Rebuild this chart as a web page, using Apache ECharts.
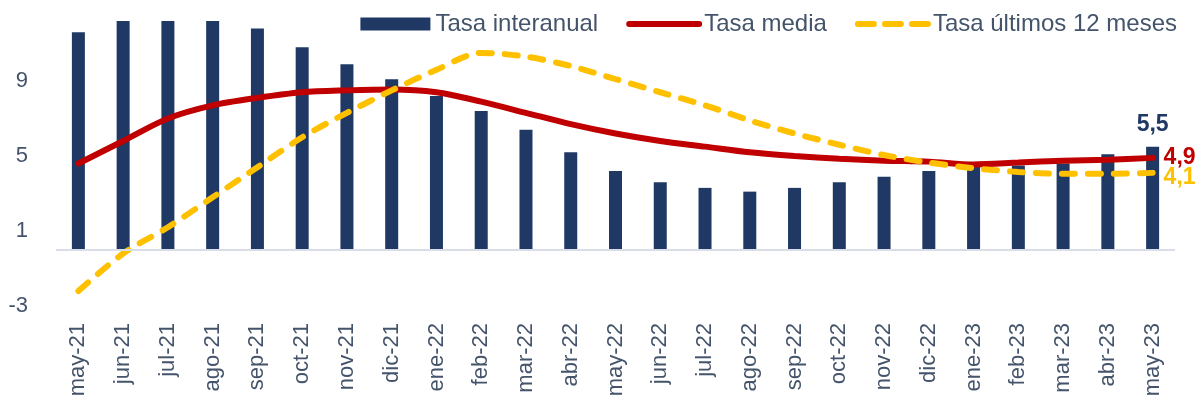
<!DOCTYPE html>
<html>
<head>
<meta charset="utf-8">
<script src="https://cdn.jsdelivr.net/npm/echarts@6/dist/echarts.min.js"></script>
<style>
  html, body { margin: 0; padding: 0; background: #fff; }
  #chart { width: 1199px; height: 403px; }
</style>
</head>
<body>
<div id="chart"></div>
<script>
const months = ["may-21", "jun-21", "jul-21", "ago-21", "sep-21", "oct-21", "nov-21", "dic-21", "ene-22",
  "feb-22", "mar-22", "abr-22", "may-22", "jun-22", "jul-22", "ago-22", "sep-22", "oct-22", "nov-22",
  "dic-22", "ene-23", "feb-23", "mar-23", "abr-23", "may-23"];

const tasaInteranual = [11.6, 12.2, 12.2, 12.2, 11.8, 10.8, 9.9, 9.1, 8.2, 7.4, 6.4, 5.2, 4.2,
  3.6, 3.3, 3.1, 3.3, 3.6, 3.9, 4.2, 4.5, 4.5, 4.6, 5.1, 5.5];
const tasaMedia = [4.6, 5.8, 7.0, 7.7, 8.1, 8.4, 8.5, 8.55, 8.4, 7.9, 7.3, 6.7, 6.2,
  5.8, 5.5, 5.2, 5.0, 4.85, 4.75, 4.7, 4.55, 4.65, 4.75, 4.8, 4.9];
const tasaUltimos12 = [-2.2, -0.2, 1.2, 2.8, 4.4, 6.0, 7.3, 8.5, 9.6, 10.5, 10.3, 9.8, 9.1,
  8.4, 7.7, 6.9, 6.2, 5.6, 5.05, 4.65, 4.35, 4.15, 4.05, 4.05, 4.1];

const yTicks = [-3, 1, 5, 9];

const navy = "#203864";
const red = "#C00000";
const yellow = "#FFC000";
const textColor = "#44546A";
const font = "Liberation Sans, Arial, sans-serif";

const fmt = (v) => v.toFixed(1).replace(".", ",");

const chart = echarts.init(document.getElementById("chart"));

const barData = tasaInteranual.map((v, i) => {
  if (i !== tasaInteranual.length - 1) return v;
  return {
    value: v,
    label: {
      show: true, position: "top", distance: 10,
      formatter: (p) => fmt(p.value),
      color: navy, fontWeight: "bold", fontSize: 23, fontFamily: font
    }
  };
});

chart.setOption({
  animation: false,
  backgroundColor: "#fff",
  grid: { left: 56, right: 24, top: 6, bottom: 97 },
  legend: {
    right: 17,
    top: 7,
    itemWidth: 70,
    itemHeight: 13,
    itemGap: 28,
    textStyle: { color: textColor, fontSize: 24, fontFamily: font },
    data: [
      { name: "Tasa interanual", icon: "rect" },
      {
        name: "Tasa media",
        itemStyle: { opacity: 0 },
        lineStyle: { color: red, width: 6, cap: "round" }
      },
      {
        name: "Tasa últimos 12 meses",
        itemStyle: { opacity: 0 },
        lineStyle: { color: yellow, width: 6, type: [16, 11], cap: "round" }
      }
    ]
  },
  xAxis: {
    type: "category",
    data: months,
    axisLine: { show: false, onZero: false },
    axisTick: { show: false },
    axisLabel: {
      rotate: 90, margin: 17, interval: 0,
      color: textColor, fontSize: 22, fontFamily: font
    }
  },
  yAxis: {
    type: "value",
    min: -3,
    max: 13,
    interval: 4,
    axisLine: { show: false },
    axisTick: { show: false },
    splitLine: { show: false },
    axisLabel: {
      margin: 28,
      color: textColor, fontSize: 22, fontFamily: font,
      formatter: (v) => (yTicks.includes(v) ? String(v) : "")
    }
  },
  series: [
    {
      name: "Tasa interanual",
      type: "bar",
      data: barData,
      barWidth: 13,
      itemStyle: { color: navy },
      markLine: {
        silent: true,
        symbol: "none",
        label: { show: false },
        lineStyle: { color: "#D9DDE8", width: 2, type: "solid" },
        data: [{ yAxis: 0 }]
      }
    },
    {
      name: "Tasa media",
      type: "line",
      data: tasaMedia,
      smooth: 0.3,
      symbol: "none",
      lineStyle: { color: red, width: 6, cap: "round" },
      itemStyle: { color: red },
      endLabel: {
        show: true, distance: 11,
        formatter: (p) => fmt(p.value),
        color: red, fontWeight: "bold", fontSize: 23, fontFamily: font
      }
    },
    {
      name: "Tasa últimos 12 meses",
      type: "line",
      data: tasaUltimos12,
      smooth: 0.3,
      symbol: "none",
      lineStyle: { color: yellow, width: 6, type: [13, 13], cap: "round" },
      itemStyle: { color: yellow },
      endLabel: {
        show: true, distance: 11, offset: [0, 5],
        formatter: (p) => fmt(p.value),
        color: yellow, fontWeight: "bold", fontSize: 23, fontFamily: font
      }
    }
  ]
});
</script>
</body>
</html>
